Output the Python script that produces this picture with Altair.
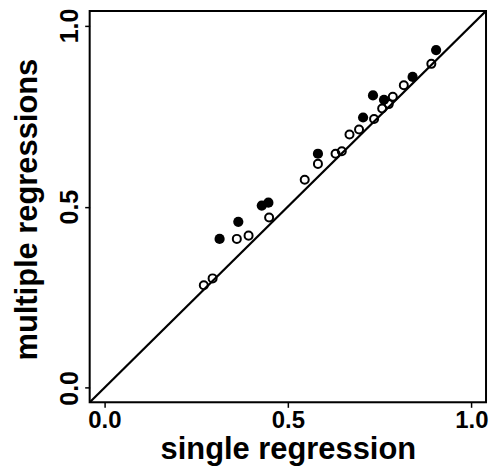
import altair as alt
import pandas as pd

# Filled (black) points
filled_x = [0.314, 0.365, 0.429, 0.447, 0.582, 0.705, 0.732, 0.762, 0.840, 0.904]
filled_y = [0.411, 0.458, 0.503, 0.511, 0.646, 0.746, 0.807, 0.795, 0.858, 0.932]

# Open points
open_x = [0.271, 0.295, 0.361, 0.393, 0.449, 0.546, 0.582, 0.630, 0.647, 0.668,
          0.694, 0.735, 0.757, 0.775, 0.786, 0.816, 0.891]
open_y = [0.283, 0.302, 0.411, 0.420, 0.470, 0.574, 0.618, 0.646, 0.653, 0.699,
          0.713, 0.742, 0.771, 0.783, 0.803, 0.835, 0.894]

# Identity line endpoints
line_x = [-0.04, 1.04]
line_y = [-0.04, 1.04]

axis_ticks = [0.0, 0.5, 1.0]
DOMAIN = [-0.04, 1.04]
FONT = "Liberation Sans"
W, H = 398, 393

df_f = pd.DataFrame({"x": filled_x, "y": filled_y})
df_o = pd.DataFrame({"x": open_x, "y": open_y})
df_l = pd.DataFrame({"x": line_x, "y": line_y})

xscale = alt.Scale(domain=DOMAIN, nice=False, zero=False)
yscale = alt.Scale(domain=DOMAIN, nice=False, zero=False)

xaxis = alt.Axis(
    values=axis_ticks, format=".1f", domain=False, grid=False,
    tickSize=5, tickColor="black", tickWidth=1.5,
    labelFont=FONT, labelFontSize=24, labelFontWeight="bold", labelColor="black",
    labelPadding=1, labelFlush=False,
    title="single regression", titleFont=FONT, titleFontSize=31,
    titleFontWeight="bold", titleColor="black",
    titleX=199, titleY=56, titleBaseline="alphabetic", titleAlign="center",
)
yaxis = alt.Axis(
    values=axis_ticks, format=".1f", domain=False, grid=False,
    tickSize=5, tickColor="black", tickWidth=1.5,
    labelFont=FONT, labelFontSize=25, labelFontWeight="bold", labelColor="black",
    labelAngle=270, labelAlign="center", labelBaseline="alphabetic",
    labelPadding=7, labelFlush=False,
    title="multiple regressions", titleFont=FONT, titleFontSize=31,
    titleFontWeight="bold", titleColor="black",
    titleAngle=270, titleX=-53, titleY=199, titleBaseline="alphabetic",
    titleAlign="center",
)

line = alt.Chart(df_l).mark_line(color="black", strokeWidth=2.2, clip=True).encode(
    x=alt.X("x:Q", scale=xscale, axis=xaxis),
    y=alt.Y("y:Q", scale=yscale, axis=yaxis),
)
open_pts = alt.Chart(df_o).mark_point(
    shape="circle", filled=False, color="black", strokeWidth=2, size=65, opacity=1
).encode(x=alt.X("x:Q", scale=xscale), y=alt.Y("y:Q", scale=yscale))
filled_pts = alt.Chart(df_f).mark_point(
    shape="circle", filled=True, color="black", size=105, opacity=1
).encode(x=alt.X("x:Q", scale=xscale), y=alt.Y("y:Q", scale=yscale))

frame = alt.Chart(alt.Data(values=[{}])).mark_rect(
    fill="transparent", stroke="black", strokeWidth=2
).encode(
    x=alt.value(0), x2=alt.value(W), y=alt.value(0), y2=alt.value(H)
)

chart = (
    alt.layer(line, open_pts, filled_pts, frame)
    .properties(
        width=W, height=H,
        autosize=alt.AutoSizeParams(type="none"),
        padding={"left": 82, "top": 2, "right": 5, "bottom": 70},
    )
    .configure_view(strokeWidth=0)
    .configure(background="white")
)

chart.save("out.html", embed_options={"renderer": "svg", "actions": False})
